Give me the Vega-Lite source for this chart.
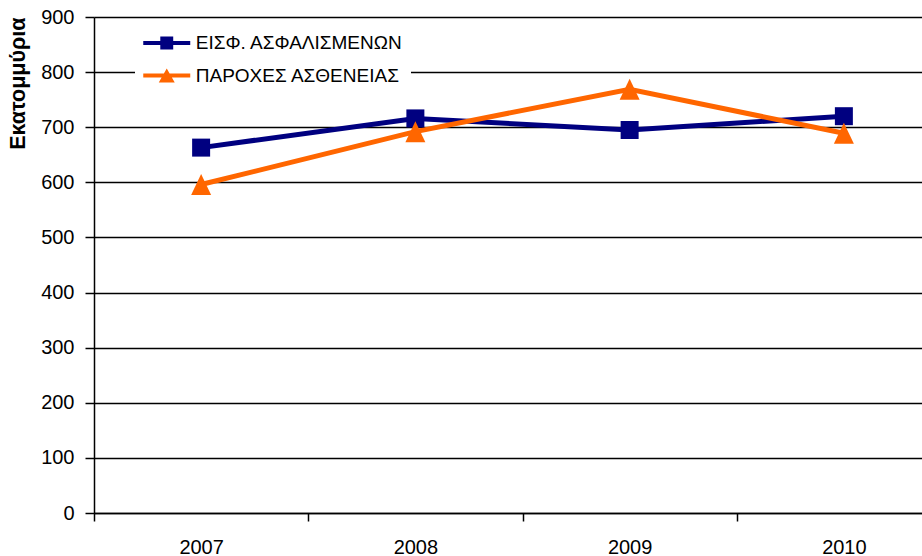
{
  "$schema": "https://vega.github.io/schema/vega-lite/v6.json",
  "autosize": {"type": "none"},
  "padding": {"left": 94, "top": 17, "right": 0, "bottom": 43},
  "width": 828,
  "height": 496,
  "background": "white",
  "config": {
    "font": "Liberation Sans",
    "view": {"stroke": null}
  },
  "data": {
    "values": [
      {"year": "2007", "series": "ΕΙΣΦ. ΑΣΦΑΛΙΣΜΕΝΩΝ", "value": 663},
      {"year": "2008", "series": "ΕΙΣΦ. ΑΣΦΑΛΙΣΜΕΝΩΝ", "value": 716},
      {"year": "2009", "series": "ΕΙΣΦ. ΑΣΦΑΛΙΣΜΕΝΩΝ", "value": 695},
      {"year": "2010", "series": "ΕΙΣΦ. ΑΣΦΑΛΙΣΜΕΝΩΝ", "value": 720},
      {"year": "2007", "series": "ΠΑΡΟΧΕΣ ΑΣΘΕΝΕΙΑΣ", "value": 596},
      {"year": "2008", "series": "ΠΑΡΟΧΕΣ ΑΣΘΕΝΕΙΑΣ", "value": 692},
      {"year": "2009", "series": "ΠΑΡΟΧΕΣ ΑΣΘΕΝΕΙΑΣ", "value": 769},
      {"year": "2010", "series": "ΠΑΡΟΧΕΣ ΑΣΘΕΝΕΙΑΣ", "value": 689}
    ]
  },
  "encoding": {
    "x": {
      "field": "year", "type": "ordinal",
      "scale": {"type": "band", "paddingInner": 0, "paddingOuter": 0, "range": [0, 857]},
      "axis": {
        "title": null, "labelAngle": 0, "tickBand": "extent",
        "domainColor": "#000", "domainWidth": 1.5,
        "tickColor": "#000", "tickWidth": 1.5, "tickSize": 8,
        "labelFontSize": 20, "labelColor": "#000", "labelPadding": 16, "grid": false
      }
    },
    "y": {
      "field": "value", "type": "quantitative",
      "scale": {"domain": [0, 900], "nice": false, "zero": true},
      "axis": {
        "title": "Εκατομμύρια", "titleFontSize": 21.5, "titleFontWeight": "bold", "titleColor": "#000",
        "titleAnchor": "end", "titlePadding": 11,
        "values": [0, 100, 200, 300, 400, 500, 600, 700, 800, 900],
        "grid": true, "gridColor": "#000", "gridWidth": 1.5,
        "domainColor": "#000", "domainWidth": 1.5,
        "tickColor": "#000", "tickWidth": 1.5, "tickSize": 9,
        "labelFontSize": 20, "labelColor": "#000", "labelPadding": 11
      }
    },
    "color": {
      "field": "series", "type": "nominal",
      "scale": {"domain": ["ΕΙΣΦ. ΑΣΦΑΛΙΣΜΕΝΩΝ", "ΠΑΡΟΧΕΣ ΑΣΘΕΝΕΙΑΣ"], "range": ["#000080", "#FF6600"]},
      "legend": {
        "title": null, "orient": "none", "legendX": 41, "legendY": 6,
        "fillColor": "white", "strokeColor": null, "padding": 8,
        "symbolSize": 552, "symbolOffset": 11.75, "labelOffset": 17,
        "rowPadding": 10.5, "labelFontSize": 19, "labelColor": "#000", "labelLimit": 400,
        "symbolStrokeWidth": 0,
        "encode": {
          "symbols": {
            "update": {
              "shape": {"signal": "datum.value == 'ΕΙΣΦ. ΑΣΦΑΛΙΣΜΕΝΩΝ' ? 'M-2,-0.17H2V0.17H-2Z M-0.55,-0.55H0.55V0.55H-0.55Z' : 'M-2,-0.17H2V0.17H-2Z M0,-0.6L0.68,0.6H-0.68Z'"},
              "fill": {"scale": "color", "field": "value"},
              "strokeWidth": {"value": 0},
              "opacity": {"value": 1}
            }
          }
        }
      }
    }
  },
  "layer": [
    {
      "mark": {"type": "line", "strokeWidth": 5}
    },
    {
      "transform": [{"filter": "datum.series == 'ΕΙΣΦ. ΑΣΦΑΛΙΣΜΕΝΩΝ'"}],
      "mark": {"type": "point", "filled": true, "opacity": 1, "size": 400, "shape": "M-0.9,-0.9H0.9V0.9H-0.9Z"}
    },
    {
      "transform": [{"filter": "datum.series == 'ΠΑΡΟΧΕΣ ΑΣΘΕΝΕΙΑΣ'"}],
      "mark": {"type": "point", "filled": true, "opacity": 1, "size": 400, "shape": "M0,-1.05L1,1.05H-1Z"}
    }
  ]
}
